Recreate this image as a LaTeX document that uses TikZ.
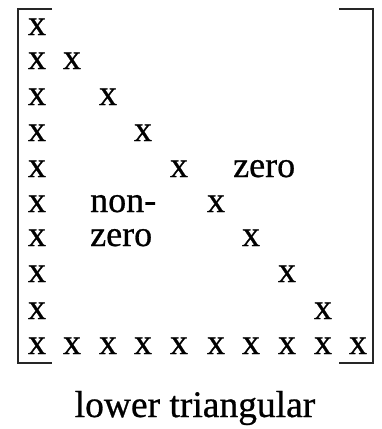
\documentclass[tikz,border=0pt]{standalone}
\usepackage{fontspec}
\setmainfont{Liberation Serif}
\newfontfamily\scanfont[FakeBold=0.7]{Liberation Serif}
\begin{document}
\begin{tikzpicture}[x=1pt,y=-1pt,
  entry/.style={anchor=base,inner sep=0pt,font=\scanfont\fontsize{36}{40}\selectfont},
  word/.style={anchor=base west,inner sep=0pt,font=\scanfont\fontsize{36}{40}\selectfont},
  brack/.style={line width=1.6pt,black!85}]
\useasboundingbox[fill=white] (0,0) rectangle (381,429);
% bracket
\draw[brack] (52,9) -- (18,9) -- (18,363) -- (52,363);
\draw[brack] (339,9) -- (373,9) -- (373,363) -- (339,363);
% column x positions and row baselines
\def\cols{{37,72,108,143,179,216,251,287,323,358}}
\def\rows{{35,69,105,141,177,212,246,282,319,354}}
% first column
\foreach \i in {0,...,9}{
  \pgfmathsetmacro{\yy}{\rows[\i]}
  \node[entry] (c1r\i) at (37,\yy) {x};
}
% diagonal
\foreach \i in {1,...,8}{
  \pgfmathsetmacro{\yy}{\rows[\i]}
  \pgfmathsetmacro{\xx}{\cols[\i]}
  \node[entry] (d\i) at (\xx,\yy) {x};
}
% bottom row
\foreach \i in {1,...,9}{
  \pgfmathsetmacro{\xx}{\cols[\i]}
  \node[entry] (b\i) at (\xx,354) {x};
}
\node[word] (zeroU) at (233,177) {zero};
\node[word] (non) at (90,212) {non-};
\node[word] (zeroL) at (90,246) {zero};
\node[anchor=base,inner sep=0pt,font=\scanfont\fontsize{37.5}{40}\selectfont] (cap) at (195,417) {lower triangular};
\end{tikzpicture}
\end{document}
